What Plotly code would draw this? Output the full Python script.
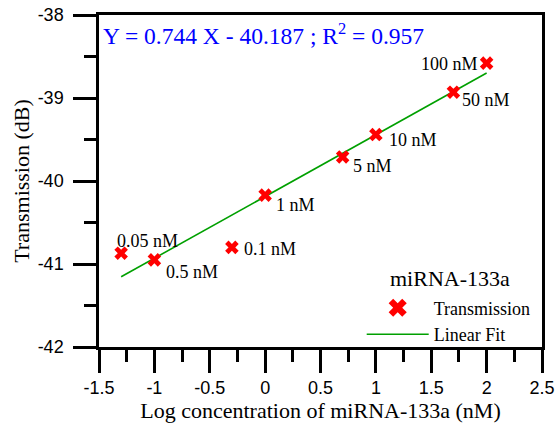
import plotly.graph_objects as go

# ---- data ----
log_conc = [-1.3, -1.0, -0.3, 0.0, 0.7, 1.0, 1.7, 2.0]
transmission = [-40.87, -40.95, -40.80, -40.17, -39.71, -39.44, -38.93, -38.58]
point_labels = ["0.05 nM", "0.5 nM", "0.1 nM", "1 nM", "5 nM", "10 nM", "50 nM", "100 nM"]
fit_x = [-1.3, 2.0]
fit_y = [-41.154, -38.699]
x_tick_vals = [-1.5, -1.0, -0.5, 0.0, 0.5, 1.0, 1.5, 2.0, 2.5]
x_tick_text = ["-1.5", "-1", "-0.5", "0", "0.5", "1", "1.5", "2", "2.5"]
y_tick_vals = [-42, -41, -40, -39, -38]
y_tick_text = ["-42", "-41", "-40", "-39", "-38"]

# label offsets (px) and anchors
label_dx = [-6, 10, 10, 9, 8, 11, 7, -7]
label_dy = [12, -12, -2, -10, -9, -5, -8, -1]
label_anchor = ["left", "left", "left", "left", "left", "left", "left", "right"]

SERIF = "Liberation Serif"
SANS = "Liberation Sans"

fig = go.Figure()
fig.add_trace(go.Scatter(
    x=fit_x, y=fit_y, mode="lines", name="Linear Fit",
    line=dict(color="#00A000", width=1.6), showlegend=True, legendrank=2))
fig.add_trace(go.Scatter(
    x=log_conc, y=transmission, mode="markers", name="Transmission",
    marker=dict(symbol="x", size=12, color="#FF0000", line=dict(width=0)),
    showlegend=False))
# legend entry with a larger marker (no data points)
fig.add_trace(go.Scatter(
    x=[None], y=[None], mode="markers", name="Transmission",
    marker=dict(symbol="x", size=16, color="#FF0000", line=dict(width=0)),
    legendrank=1, hoverinfo="skip"))

for xv, yv, t, dx, dy, a in zip(log_conc, transmission, point_labels, label_dx, label_dy, label_anchor):
    fig.add_annotation(x=xv, y=yv, text=t, showarrow=False, xanchor=a, yanchor="middle",
                       xshift=dx, yshift=dy, font=dict(family=SERIF, size=18, color="black"))

fig.add_annotation(xref="paper", yref="paper", x=0.005, y=0.925, xanchor="left", yanchor="middle",
                   yshift=6,
                   text="Y = 0.744 X - 40.187 ; R<sup>2</sup> = 0.957", showarrow=False,
                   font=dict(family=SERIF, size=23.5, color="#0000FF"))

# legend title
fig.add_annotation(xref="paper", yref="paper", x=0.792, y=0.205, xanchor="center", yanchor="middle",
                   text="miRNA-133a", showarrow=False,
                   font=dict(family=SERIF, size=22, color="black"))

axis_common = dict(
    showgrid=False, zeroline=False, showline=True, linecolor="black", linewidth=2.5,
    mirror=True, ticks="outside", ticklen=23, tickwidth=2.5, tickcolor="black",
    tickfont=dict(family=SANS, size=18, color="black"),
    automargin=False, ticklabeloverflow="allow",
)

fig.update_xaxes(
    range=[-1.5, 2.5], tickmode="array", tickvals=x_tick_vals, ticktext=x_tick_text,
    minor=dict(dtick=0.25, tick0=-1.5, ticks="outside", ticklen=12, tickwidth=2.5, tickcolor="black"),
    title=dict(text="Log concentration of miRNA-133a (nM)", font=dict(family=SERIF, size=22, color="black"), standoff=2),
    **axis_common)
fig.update_yaxes(
    range=[-42, -38], tickmode="array", tickvals=y_tick_vals, ticktext=y_tick_text,
    minor=dict(dtick=0.5, tick0=-42, ticks="outside", ticklen=12, tickwidth=2.5, tickcolor="black"),
    title=dict(text="Transmission (dB)", font=dict(family=SERIF, size=22, color="black"), standoff=2),
    ticklabelstandoff=6,
    **axis_common)

fig.update_layout(
    width=555, height=430,
    margin=dict(l=99, r=13, t=15, b=83),
    paper_bgcolor="white", plot_bgcolor="white",
    legend=dict(
        x=0.593, y=0.078, xanchor="left", yanchor="middle",
        font=dict(family=SERIF, size=18, color="black"),
        itemwidth=62, bgcolor="rgba(0,0,0,0)", tracegroupgap=0,
    ),
)

fig.write_html("out.html")
